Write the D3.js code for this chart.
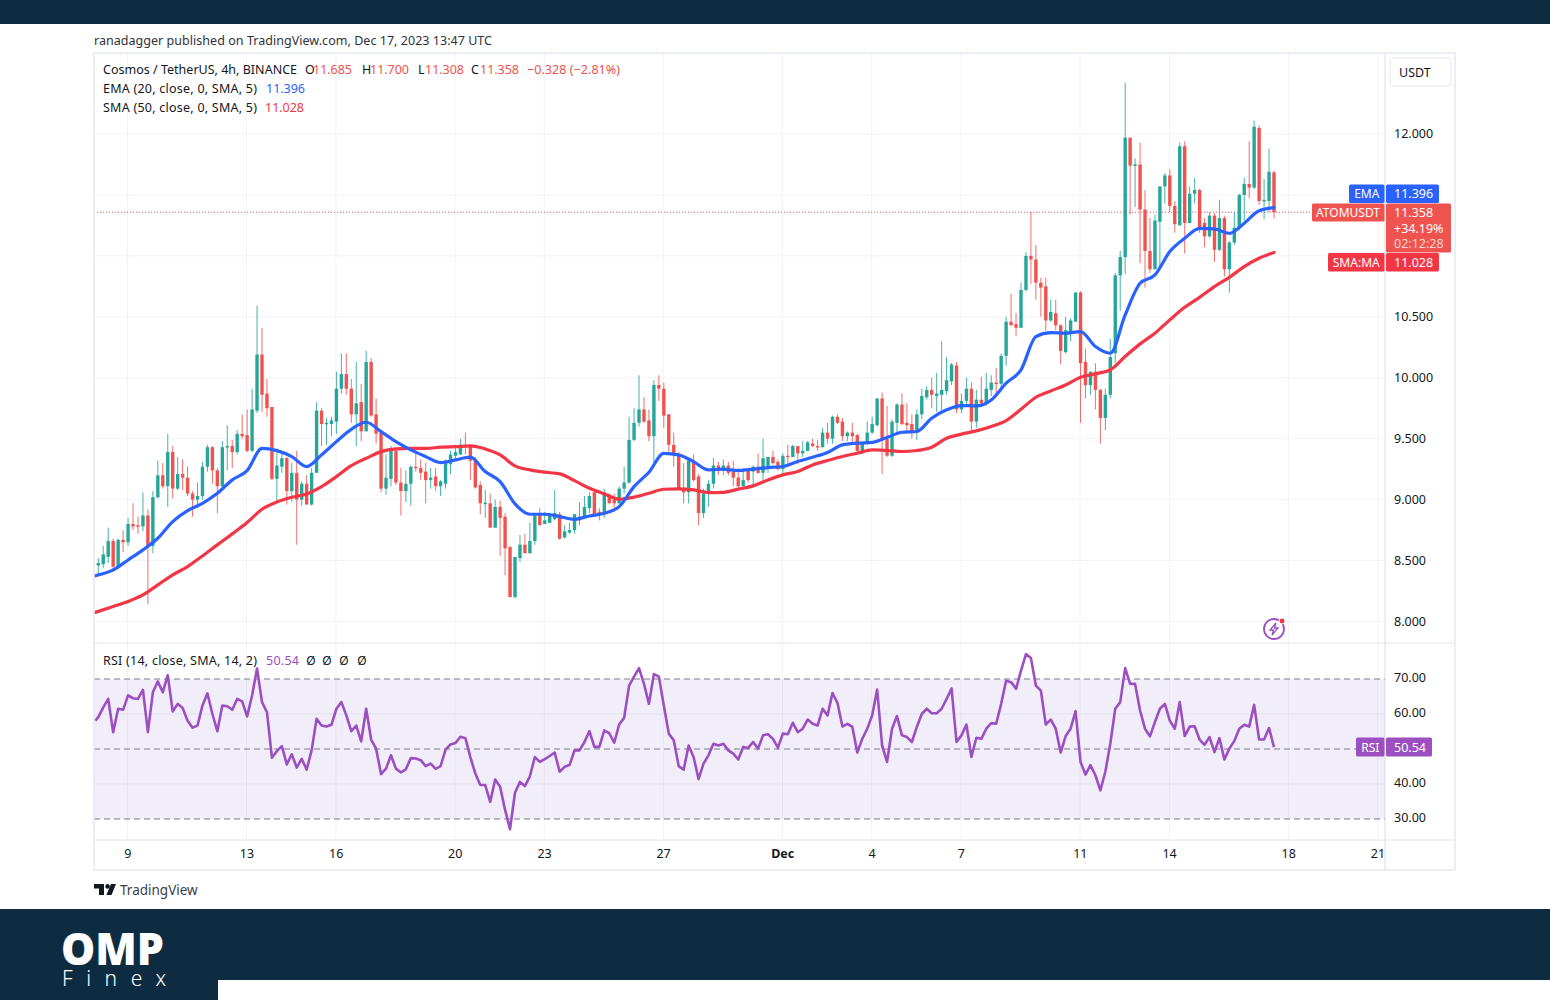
<!DOCTYPE html>
<html>
<head>
<meta charset="utf-8">
<title>ATOMUSDT 4h</title>
<script src="https://cdn.jsdelivr.net/npm/d3@7"></script>
<style>
  body { margin: 0; background: #fff; }
  text { font-family: "Noto Sans", sans-serif; }
</style>
</head>
<body>
<svg id="chart" width="1550" height="1000"></svg>
<script>
// 4h bars, bar 0 = Nov 8 00:00 UTC, last bar = Dec 17 12:00 UTC
const opens = [
  8.46,8.47,8.53,8.66,8.45,8.67,8.65,8.80,8.79,8.78,
  8.87,8.62,9.02,9.20,9.11,9.39,9.09,9.21,9.18,9.05,
  9.00,9.03,9.27,9.43,9.24,9.11,9.44,9.44,9.39,9.54,
  9.53,9.40,9.73,10.19,9.87,9.76,9.17,9.27,9.34,9.07,
  9.22,9.00,9.13,8.96,9.22,9.73,9.63,9.62,9.64,9.91,
  10.03,9.91,9.70,9.80,9.56,10.13,9.70,9.55,9.09,9.17,
  9.40,9.14,9.07,9.13,9.27,9.26,9.23,9.16,9.19,9.11,
  9.13,9.29,9.36,9.37,9.44,9.44,9.32,9.12,8.97,8.97,
  8.77,8.94,8.86,8.61,8.20,8.52,8.63,8.56,8.66,8.87,
  8.80,8.81,8.84,8.88,8.69,8.73,8.75,8.86,8.86,8.93,
  9.06,8.90,8.89,9.04,9.00,8.97,9.09,9.14,9.49,9.63,
  9.74,9.65,9.52,9.94,9.91,9.70,9.45,9.37,9.09,9.06,
  9.32,9.19,8.89,9.05,9.13,9.28,9.24,9.28,9.23,9.18,
  9.11,9.24,9.23,9.27,9.22,9.26,9.35,9.31,9.25,9.36,
  9.35,9.44,9.38,9.40,9.46,9.44,9.43,9.55,9.50,9.68,
  9.64,9.52,9.55,9.53,9.39,9.46,9.55,9.61,9.83,9.50,
  9.36,9.63,9.78,9.63,9.62,9.56,9.70,9.84,9.90,9.85,
  9.86,9.89,9.97,10.10,9.74,9.81,9.91,9.64,9.82,9.79,
  9.90,9.96,9.95,10.18,10.46,10.44,10.41,10.72,11.00,10.97,
  10.78,10.75,10.47,10.53,10.43,10.21,10.38,10.46,10.70,10.13,
  9.94,10.05,9.90,9.67,9.86,10.20,10.84,10.99,11.97,11.74,
  11.75,11.38,11.04,10.89,11.28,11.57,11.66,11.41,11.25,11.90,
  11.27,11.51,11.54,11.27,11.16,11.33,11.05,11.31,10.89,11.11,
  11.23,11.50,11.59,11.56,12.05,11.45,11.45,11.685
]
const highs = [
  8.52,8.62,8.77,8.68,8.68,8.75,8.85,8.97,8.86,9.06,
  8.92,9.07,9.32,9.30,9.54,9.44,9.35,9.33,9.27,9.07,
  9.14,9.31,9.45,9.44,9.26,9.48,9.61,9.49,9.57,9.70,
  9.74,9.91,10.59,10.41,9.99,9.76,9.42,9.38,9.35,9.30,
  9.40,9.15,9.20,9.26,9.80,9.75,9.67,9.68,10.05,10.20,
  10.20,9.99,10.13,9.95,10.22,10.16,9.83,9.57,9.37,9.44,
  9.41,9.26,9.24,9.28,9.41,9.33,9.30,9.26,9.26,9.16,
  9.33,9.40,9.45,9.50,9.55,9.44,9.35,9.15,9.08,9.05,
  9.00,8.99,8.89,8.62,8.53,8.71,8.72,8.81,8.88,8.93,
  8.90,8.89,9.08,8.90,8.79,8.81,8.88,8.98,9.03,9.06,
  9.07,8.93,9.09,9.05,9.05,9.11,9.27,9.68,9.75,10.02,
  9.84,9.74,9.98,10.02,9.96,9.70,9.55,9.39,9.30,9.34,
  9.37,9.21,9.09,9.16,9.34,9.31,9.33,9.31,9.32,9.26,
  9.24,9.24,9.28,9.38,9.50,9.35,9.40,9.33,9.38,9.45,
  9.45,9.44,9.48,9.48,9.50,9.49,9.59,9.63,9.69,9.70,
  9.67,9.56,9.63,9.54,9.48,9.64,9.68,9.83,9.88,9.77,
  9.66,9.79,9.87,9.79,9.70,9.74,9.91,9.93,10.00,10.04,
  10.30,10.17,10.12,10.13,9.87,10.00,9.96,9.90,10.01,10.04,
  10.02,10.08,10.20,10.50,10.69,10.53,10.78,11.03,11.36,11.09,
  10.82,10.82,10.64,10.64,10.44,10.50,10.49,10.70,10.71,10.24,
  10.05,10.12,9.91,9.91,10.32,10.86,11.04,12.42,11.97,11.80,
  11.93,11.54,11.31,11.34,11.57,11.68,11.71,11.45,11.93,11.94,
  11.57,11.64,11.55,11.31,11.36,11.35,11.46,11.33,11.12,11.36,
  11.51,11.64,11.94,12.11,12.07,11.63,11.88,11.70
]
const lows = [
  8.38,8.44,8.48,8.41,8.44,8.57,8.62,8.75,8.72,8.74,
  8.14,8.56,9.01,9.09,8.94,9.01,9.08,9.08,9.03,8.86,
  8.93,9.00,9.23,9.13,8.89,9.07,9.24,9.26,9.37,9.50,
  9.39,9.39,9.71,9.72,9.68,9.16,8.99,9.22,8.96,8.98,
  8.63,8.95,8.96,8.95,9.22,9.44,9.45,9.52,9.54,9.87,
  9.86,9.63,9.44,9.48,9.60,9.68,9.46,9.06,9.04,9.11,
  9.12,8.87,8.98,8.95,9.23,9.16,8.97,9.09,9.07,9.03,
  9.09,9.21,9.33,9.37,9.37,9.16,9.09,8.88,8.85,8.77,
  8.77,8.54,8.38,8.20,8.19,8.49,8.56,8.56,8.63,8.79,
  8.80,8.81,8.83,8.67,8.68,8.72,8.72,8.79,8.85,8.89,
  8.86,8.83,8.85,8.97,8.90,8.96,9.05,9.13,9.48,9.60,
  9.63,9.48,9.29,9.81,9.59,9.38,9.27,9.09,8.97,8.97,
  9.15,8.79,8.85,8.94,9.09,9.20,9.20,9.20,9.11,9.09,
  9.09,9.14,9.12,9.21,9.16,9.22,9.29,9.24,9.19,9.27,
  9.35,9.29,9.35,9.40,9.43,9.40,9.43,9.46,9.46,9.62,
  9.48,9.48,9.46,9.38,9.38,9.45,9.54,9.60,9.21,9.35,
  9.35,9.55,9.61,9.55,9.50,9.49,9.66,9.82,9.75,9.72,
  9.73,9.86,9.94,9.71,9.71,9.76,9.56,9.59,9.76,9.77,
  9.85,9.87,9.91,10.10,10.43,10.34,10.41,10.71,10.77,10.64,
  10.50,10.39,10.46,10.39,10.11,10.20,10.30,10.46,9.63,9.83,
  9.86,9.74,9.46,9.57,9.83,10.12,10.55,10.85,11.34,11.40,
  10.94,10.74,10.86,10.89,10.90,11.43,11.36,11.19,11.25,11.02,
  11.27,11.43,11.19,11.07,11.15,10.95,11.04,10.83,10.70,11.09,
  11.21,11.29,11.47,11.55,11.42,11.30,11.36,11.308
]
const closes = [
  8.48,8.55,8.66,8.45,8.67,8.65,8.80,8.78,8.78,8.87,
  8.62,9.02,9.20,9.11,9.39,9.09,9.21,9.18,9.05,9.00,
  9.03,9.27,9.43,9.24,9.11,9.43,9.44,9.39,9.54,9.52,
  9.40,9.74,10.19,9.86,9.75,9.17,9.28,9.34,9.07,9.22,
  9.00,9.13,8.96,9.22,9.73,9.62,9.63,9.65,9.91,10.03,
  9.91,9.70,9.79,9.56,10.13,9.69,9.54,9.09,9.18,9.41,
  9.14,9.07,9.13,9.27,9.26,9.22,9.16,9.18,9.11,9.15,
  9.32,9.37,9.39,9.45,9.43,9.32,9.10,8.97,8.975,8.77,
  8.94,8.85,8.60,8.20,8.53,8.63,8.56,8.66,8.87,8.79,
  8.83,8.88,8.89,8.68,8.74,8.75,8.88,8.83,8.94,9.03,
  8.88,8.89,9.06,8.97,8.97,9.09,9.14,9.49,9.63,9.74,
  9.64,9.52,9.94,9.91,9.69,9.45,9.37,9.09,9.06,9.32,
  9.16,8.89,9.05,9.13,9.28,9.24,9.28,9.22,9.18,9.11,
  9.16,9.16,9.27,9.22,9.34,9.35,9.30,9.25,9.36,9.35,
  9.44,9.38,9.40,9.47,9.44,9.435,9.55,9.50,9.68,9.63,
  9.52,9.55,9.52,9.40,9.47,9.55,9.62,9.83,9.50,9.36,
  9.64,9.78,9.62,9.61,9.55,9.70,9.85,9.90,9.86,9.87,
  9.90,9.98,10.11,9.74,9.81,9.91,9.64,9.82,9.79,9.91,
  9.96,9.95,10.18,10.46,10.43,10.41,10.72,11.00,10.97,10.78,
  10.74,10.47,10.54,10.43,10.22,10.39,10.47,10.70,10.12,9.94,
  10.05,9.90,9.67,9.86,10.17,10.84,10.99,11.97,11.74,11.75,
  11.38,11.04,10.89,11.29,11.57,11.66,11.41,11.26,11.90,11.27,
  11.51,11.54,11.23,11.16,11.33,11.05,11.31,10.89,11.11,11.23,
  11.50,11.59,11.56,12.06,11.45,11.46,11.69,11.358
]

// moving averages
const maStep = 3
const ema20 = [
  8.375,8.423,8.505,8.588,8.683,8.82,8.91,8.97,9.052,9.162,
  9.238,9.421,9.402,9.353,9.271,9.367,9.476,9.577,9.635,9.558,
  9.476,9.408,9.353,9.304,9.326,9.348,9.23,9.148,8.965,8.88,
  8.88,8.861,8.839,8.866,8.888,8.943,9.107,9.225,9.38,9.367,
  9.312,9.244,9.25,9.239,9.25,9.263,9.272,9.313,9.348,9.387,
  9.449,9.463,9.469,9.51,9.553,9.559,9.668,9.737,9.772,9.769,
  9.818,9.955,10.065,10.338,10.37,10.365,10.379,10.256,10.201,10.515,
  10.775,10.844,11.035,11.144,11.226,11.221,11.185,11.267,11.371,11.396
]
const sma50 = [
  8.075,8.123,8.164,8.218,8.3,8.382,8.451,8.538,8.629,8.719,
  8.812,8.921,8.98,9.019,9.047,9.107,9.189,9.279,9.339,9.394,
  9.416,9.421,9.421,9.43,9.435,9.441,9.416,9.367,9.277,9.244,
  9.225,9.211,9.156,9.093,9.047,9.003,9.02,9.052,9.085,9.088,
  9.08,9.058,9.06,9.086,9.113,9.162,9.203,9.231,9.285,9.321,
  9.354,9.381,9.408,9.403,9.395,9.403,9.43,9.504,9.537,9.564,
  9.6,9.649,9.742,9.84,9.892,9.941,10.004,10.032,10.064,10.174,
  10.278,10.365,10.475,10.578,10.66,10.748,10.824,10.912,10.98,11.028
]
const rsi = [
  59.1,61.9,64.3,54.8,61.5,61.2,65.3,64.5,64.3,66.9,
  54.8,66.2,69.3,66.2,71.1,60.7,62.9,61.7,58.1,56.1,
  56.7,62.4,65.9,60,55.1,62.4,62.2,61.2,64.3,63.6,
  59.3,65.3,73,63.4,60.5,47.5,49.4,50.8,45.6,48.5,
  44.7,47.2,44.1,49.6,58.6,56.7,56.4,56.9,61.5,63.4,
  59.6,55.1,56.7,52.2,61.5,52.7,50.1,42.8,44.4,48.2,
  44.4,43.3,44.2,47.4,47.3,46.8,45.1,45.8,44.3,45.1,
  49.8,51.3,51.7,53.5,53.1,47.7,43,39.7,39.7,34.9,
  41.3,39.2,32.6,27.1,37.5,40.6,39.4,42.2,47.7,46.3,
  47.1,48,49,43.5,44.9,45.4,49.6,49.6,52,55.1,
  50.6,50.6,55.3,54.5,51.8,57,58.9,68.1,70.7,73.1,
  68.6,62.9,71.4,70.7,62.4,54.4,52.5,45.1,44.1,51,
  47.7,41.4,45.8,48.2,51.5,51,51.5,49.6,48.7,47,
  50.6,50.3,52,50.1,53.9,54.2,52.9,50.4,54.4,54.2,
  57.5,54.8,55.8,58.4,57.2,56.7,61.5,59.6,66,63.2,
  56.4,57.2,56.3,49,52.9,55.8,59.6,67,51,46.3,
  55.8,59.4,53.9,53.4,52,56.3,60,61.5,60.2,60.2,
  61.5,64.3,67.3,52,53.9,57,47.7,53.2,52.9,55.8,
  57.4,57.2,62.9,69.5,69.1,67.2,72.4,77.1,76,68.1,
  66.7,57,58.4,55.8,49,53.7,55.8,60.8,46.3,42.7,
  45.4,42.5,38.2,43.5,51.5,61.5,63.4,73.1,68.6,68.6,
  61,55.8,53.6,57.7,61.5,62.9,58.1,55.8,63.4,53.7,
  56.4,56.5,52.7,51.2,53.4,49.1,53.1,47,50.1,52.3,
  55.8,56.9,56.4,62.6,52.7,52.7,56,50.54
]
const rsiAtEdge = 58.1

const timeTickBars = [6, 30, 48, 72, 90, 114, 138, 156, 174, 198, 216, 240, 258]
const timeTickLabels = ["9", "13", "16", "20", "23", "27", "Dec", "4", "7", "11", "14", "18", "21"]
const priceTicks = [8, 8.5, 9, 9.5, 10, 10.5, 11, 11.5, 12]
const priceLabelTicks = [8, 8.5, 9, 9.5, 10, 10.5, 12]
const rsiTicks = [30, 40, 50, 60, 70]
const rsiDashed = [30, 50, 70]

const lastClose = 11.358, lastEma = 11.396, lastSma = 11.028, lastRsi = 50.54

const UP = "#26a69a", DOWN = "#ef5350", EMA = "#2962ff", SMA = "#f23645", RSI = "#9c4fc1"
const NAVY = "#0e2c41", GRID = "#f0f3fa", EDGE = "#e6e9f2", INK = "#131722"

const left = 94, right = 1385, outer = 1455
const top0 = 54, priceBottom = 643, rsiBottom = 840, bottom = 870
const edgeBar = -0.6 // lines run out to the left edge of the pane

const x = d3.scaleLinear().domain([0, 237]).range([98.3, 1274])
const yPrice = d3.scaleLinear().domain([8, 12]).range([621.5, 134])
const yRsi = d3.scaleLinear().domain([30, 70]).range([819, 679])

const svg = d3.select("#chart")

function label(parent, px, py, str, fill, size, anchor, width) {
  let t = parent.append("text")
    .attr("x", px).attr("y", py)
    .attr("fill", fill)
    .attr("font-size", size || 12)
    .attr("text-anchor", anchor || "start")
    .attr("dominant-baseline", "central")
    .text(str)
  if (width) t.attr("textLength", width)
  return t
}

// page bands
svg.append("rect").attr("width", 1550).attr("height", 24).attr("fill", NAVY)
svg.append("rect").attr("y", 909).attr("width", 1550).attr("height", 91).attr("fill", NAVY)
svg.append("rect").attr("x", 218).attr("y", 980).attr("width", 1332).attr("height", 20).attr("fill", "#fff")

label(svg, 94, 40.5, "ranadagger published on TradingView.com, Dec 17, 2023 13:47 UTC", "#30333c", 12.5, "start", 398)

// grid
const grid = svg.append("g")
grid.selectAll("line.v").data(timeTickBars).join("line")
  .attr("x1", d => x(d) - 0.5).attr("x2", d => x(d) - 0.5)
  .attr("y1", top0).attr("y2", rsiBottom)
  .attr("stroke", GRID)
grid.selectAll("line.h").data(priceTicks).join("line")
  .attr("x1", left).attr("x2", right)
  .attr("y1", d => yPrice(d)).attr("y2", d => yPrice(d))
  .attr("stroke", GRID)

// rsi pane
const rsiPane = svg.append("g")
rsiPane.append("rect")
  .attr("x", left).attr("width", right - left)
  .attr("y", yRsi(70)).attr("height", yRsi(30) - yRsi(70))
  .attr("fill", "#7e57c2").attr("fill-opacity", 0.1)
rsiPane.selectAll("line.g").data(rsiTicks.filter(d => !rsiDashed.includes(d))).join("line")
  .attr("x1", left).attr("x2", right)
  .attr("y1", d => yRsi(d)).attr("y2", d => yRsi(d))
  .attr("stroke", "#e3e0ee")
rsiPane.selectAll("line.d").data(rsiDashed).join("line")
  .attr("x1", left).attr("x2", right)
  .attr("y1", d => yRsi(d)).attr("y2", d => yRsi(d))
  .attr("stroke", "#787b86").attr("stroke-dasharray", "6 4")
const rsiPoints = [[edgeBar, rsiAtEdge]].concat(rsi.map((d, i) => [i, d]))
rsiPane.append("path").datum(rsiPoints)
  .attr("fill", "none").attr("stroke", RSI).attr("stroke-width", 2.6)
  .attr("stroke-linejoin", "round")
  .attr("d", d3.line().x(d => x(d[0])).y(d => yRsi(d[1])))

// last price line
svg.append("line")
  .attr("x1", left).attr("x2", 1312)
  .attr("y1", yPrice(lastClose)).attr("y2", yPrice(lastClose))
  .attr("stroke", DOWN).attr("stroke-dasharray", "1 2")

// candles
const bars = d3.range(opens.length)
const colour = i => closes[i] >= opens[i] ? UP : DOWN
const candles = svg.append("g")
candles.selectAll("line").data(bars).join("line")
  .attr("x1", x).attr("x2", x)
  .attr("y1", i => yPrice(highs[i])).attr("y2", i => yPrice(lows[i]))
  .attr("stroke", colour).attr("stroke-opacity", 0.85)
candles.selectAll("rect").data(bars).join("rect")
  .attr("x", i => x(i) - 1.7).attr("width", 3.4)
  .attr("y", i => yPrice(Math.max(opens[i], closes[i])))
  .attr("height", i => Math.max(1.5, Math.abs(yPrice(opens[i]) - yPrice(closes[i]))))
  .attr("fill", colour)

// moving averages
const maLine = d3.line()
  .x((d, i) => x(i == 0 ? edgeBar : i * maStep))
  .y(d => yPrice(d))
  .curve(d3.curveMonotoneX)
svg.append("path").datum(sma50)
  .attr("fill", "none").attr("stroke", SMA).attr("stroke-width", 3.2)
  .attr("stroke-linecap", "round").attr("d", maLine)
svg.append("path").datum(ema20)
  .attr("fill", "none").attr("stroke", EMA).attr("stroke-width", 3.2)
  .attr("stroke-linecap", "round").attr("d", maLine)

// frame
const frame = svg.append("g").attr("stroke", EDGE).attr("fill", "none")
frame.append("rect").attr("x", left).attr("y", top0 - 1).attr("width", outer - left).attr("height", bottom - top0 + 1).attr("stroke-width", 1.5)
frame.append("line").attr("x1", left).attr("x2", outer).attr("y1", priceBottom).attr("y2", priceBottom).attr("stroke", "#e0e3eb")
frame.append("line").attr("x1", left).attr("x2", outer).attr("y1", rsiBottom).attr("y2", rsiBottom).attr("stroke", "#e0e3eb")
frame.append("line").attr("x1", right).attr("x2", right).attr("y1", top0).attr("y2", bottom).attr("stroke", "#d9dce5")

// axes
const priceAxis = d3.axisRight(yPrice).tickValues(priceLabelTicks).tickSize(0).tickPadding(0).tickFormat(d3.format(".3f"))
svg.append("g").attr("transform", "translate(1394,-0.5)").call(priceAxis)
  .call(g => g.select(".domain").remove())
  .call(g => g.selectAll("text").attr("font-size", 12.5).attr("fill", INK).attr("font-family", "Noto Sans"))

const rsiAxis = d3.axisRight(yRsi).tickValues(rsiTicks.filter(d => d != 50)).tickSize(0).tickPadding(0).tickFormat(d3.format(".2f"))
svg.append("g").attr("transform", "translate(1394,-1.2)").call(rsiAxis)
  .call(g => g.select(".domain").remove())
  .call(g => g.selectAll("text").attr("font-size", 12.5).attr("fill", INK).attr("font-family", "Noto Sans"))

const timeAxis = d3.axisBottom(x).tickValues(timeTickBars).tickSize(0).tickPadding(0)
  .tickFormat((d, i) => timeTickLabels[i])
svg.append("g").attr("transform", "translate(-0.7,849)").call(timeAxis)
  .call(g => g.select(".domain").remove())
  .call(g => g.selectAll("text").attr("font-size", 12.5).attr("fill", INK).attr("font-family", "Noto Sans")
    .attr("font-weight", (d, i) => timeTickLabels[i] == "Dec" ? 700 : 400))

// legends
label(svg, 103, 69.5, "Cosmos / TetherUS, 4h, BINANCE", INK, 12.5, "start", 194)
const ohlc = [["O", "11.685", 305, 313], ["H", "11.700", 362, 370], ["L", "11.308", 418, 425], ["C", "11.358", 471, 480]]
ohlc.forEach(d => {
  label(svg, d[2], 69.5, d[0], INK, 12.5)
  label(svg, d[3], 69.5, d[1], DOWN, 12.5, "start", 39)
})
label(svg, 527, 69.5, "−0.328 (−2.81%)", DOWN, 12.5, "start", 93)
label(svg, 103, 88.5, "EMA (20, close, 0, SMA, 5)", INK, 12.5, "start", 154)
label(svg, 266, 88.5, lastEma.toFixed(3), EMA, 12.5, "start", 39)
label(svg, 103, 107, "SMA (50, close, 0, SMA, 5)", INK, 12.5, "start", 154)
label(svg, 265, 107, lastSma.toFixed(3), SMA, 12.5, "start", 39)
label(svg, 103, 660, "RSI (14, close, SMA, 14, 2)", INK, 12.5, "start", 154)
label(svg, 266, 660, lastRsi.toFixed(2), RSI, 12.5, "start", 33)
const naMarks = [311, 327, 344, 362]
naMarks.forEach(px => label(svg, px, 660, "Ø", INK, 12, "middle"))

// currency button
svg.append("rect").attr("x", 1390).attr("y", 58).attr("width", 61).attr("height", 28).attr("rx", 4)
  .attr("fill", "#fff").attr("stroke", "#eef0f5").attr("stroke-width", 1.5)
label(svg, 1399, 72.5, "USDT", INK, 12.5)

// price tags
function tag(name, nx, tagY, tagH, valueW, value, fill) {
  svg.append("rect").attr("x", nx).attr("y", tagY).attr("width", 1384.5 - nx).attr("height", tagH).attr("rx", 1.5).attr("fill", fill)
  svg.append("rect").attr("x", 1386).attr("y", tagY).attr("width", valueW).attr("height", tagH).attr("rx", 1.5).attr("fill", fill)
  label(svg, (nx + 1384.5) / 2, tagY + tagH / 2, name, "#fff", 12, "middle")
  label(svg, 1394, tagY + tagH / 2, value, "#fff", 12.5)
}
tag("RSI", 1356, 737.5, 19, 46, lastRsi.toFixed(2), RSI)

svg.append("rect").attr("x", 1386).attr("y", 203.5).attr("width", 65).attr("height", 49).attr("rx", 1.5).attr("fill", DOWN)
svg.append("rect").attr("x", 1312).attr("y", 203.5).attr("width", 72.5).attr("height", 18).attr("rx", 1.5).attr("fill", DOWN)
label(svg, 1348, 212.5, "ATOMUSDT", "#fff", 12, "middle")
label(svg, 1394, 212.5, lastClose.toFixed(3), "#fff", 12.5)
label(svg, 1394, 228, "+34.19%", "#fff", 12.5)
label(svg, 1394, 243, "02:12:28", "#fbd3d2", 12.5)
tag("EMA", 1349, 184.5, 18.5, 53, lastEma.toFixed(3), EMA)
tag("SMA:MA", 1328, 253, 18.5, 53, lastSma.toFixed(3), SMA)

// news bolt
const bolt = svg.append("g").attr("transform", "translate(1274,629)")
bolt.append("circle").attr("r", 10).attr("fill", "#fff").attr("stroke", RSI).attr("stroke-width", 1.8)
bolt.append("path").attr("d", "M2,-6 L-4,1 L-0.5,1 L-2,6 L4,-1 L0.5,-1 Z").attr("fill", "none").attr("stroke", RSI).attr("stroke-width", 1.3)
bolt.append("circle").attr("cx", 8).attr("cy", -8).attr("r", 3).attr("fill", SMA).attr("stroke", "#fff")

// tradingview mark
const tv = svg.append("g").attr("fill", "#131722")
tv.append("path").attr("d", "M94,884 H104 V895 H99 V888.5 H94 Z")
tv.append("circle").attr("cx", 107.6).attr("cy", 886.4).attr("r", 2.3)
tv.append("path").attr("d", "M111,884 H116 L111.5,895 H106.4 Z")
label(svg, 120, 889.5, "TradingView", "#3b3e47", 13.5)

// brand
svg.append("text").attr("x", 61).attr("y", 965).attr("fill", "#fff")
  .attr("font-family", "Lato").attr("font-weight", 900).attr("font-size", 45)
  .attr("textLength", 103).attr("lengthAdjust", "spacingAndGlyphs").text("OMP")
svg.append("text").attr("x", 62).attr("y", 986).attr("fill", "#fff")
  .attr("font-family", "Lato").attr("font-weight", 300).attr("font-size", 21)
  .attr("textLength", 104).text("Finex")
</script>
</body>
</html>
